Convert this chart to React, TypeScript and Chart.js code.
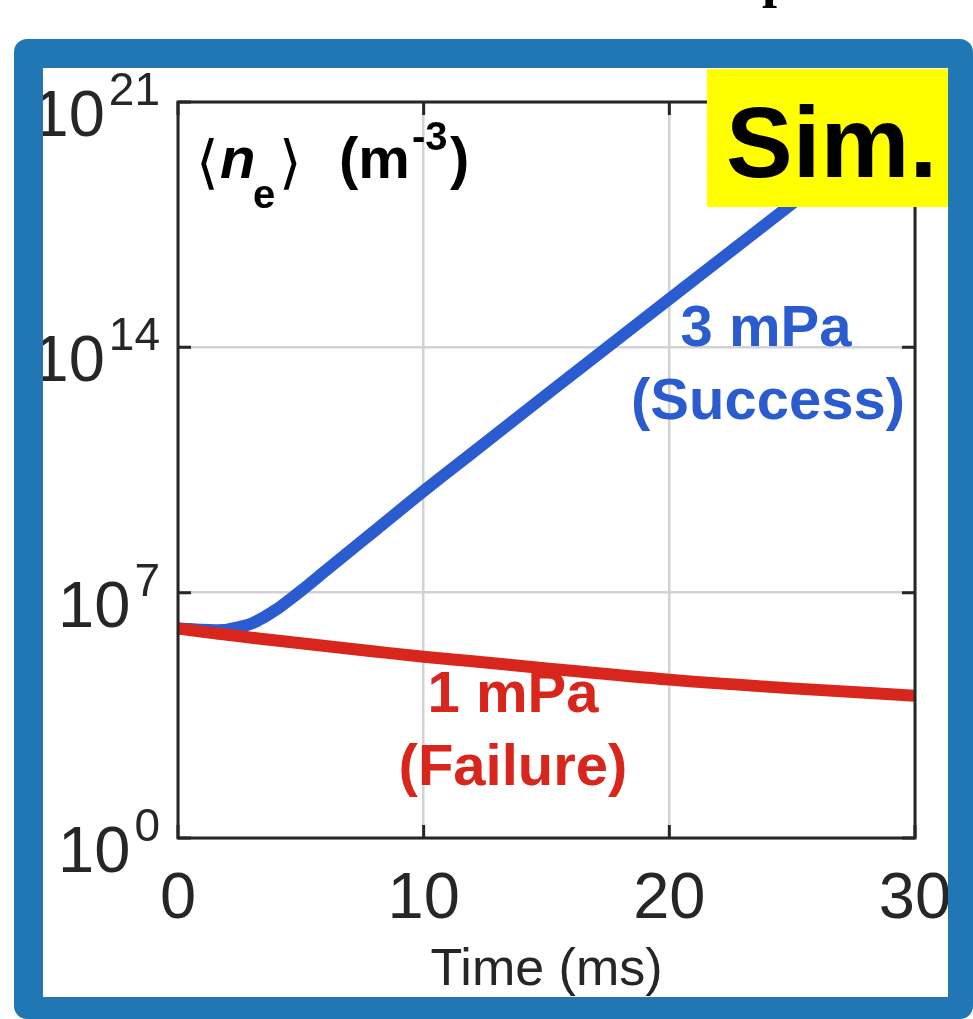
import React, { useEffect, useRef } from 'react';
import { Chart, registerables } from 'chart.js';

Chart.register(...registerables);

const W = 973;
const H = 1019;

// ---- data ----
const xTickValues = [0, 10, 20, 30];
const xTickLabels = ['0', '10', '20', '30'];
const yTickValues = [1, 1e7, 1e14, 1e21];
const yTickExponents = ['0', '7', '14', '21'];

const successTime = [0, 0.5, 1, 1.5, 2, 2.5, 3, 3.5, 4, 4.5, 5, 6, 7, 8, 10, 12, 15, 20, 25, 30];
const successDensity = [
  9.5e5, 9.2e5, 8.7e5, 8.5e5, 8.8e5, 1.05e6, 1.32e6, 2.0e6, 3.3e6, 6.0e6, 1.12e7, 4.17e7,
  1.55e8, 5.75e8, 7.94e9, 1.0e11, 4.47e12, 2.4e15, 1.26e18, 6.3e20,
];
const failureTime = [0, 1, 2, 3, 5, 8, 10, 12, 15, 20, 25, 30];
const failureDensity = [9.5e5, 7.6e5, 6.3e5, 5.2e5, 3.6e5, 2.1e5, 1.48e5, 1.1e5, 6.9e4, 3.3e4, 1.86e4, 1.15e4];

const successLabel = ['3 mPa', '(Success)'];
const failureLabel = ['1 mPa', '(Failure)'];
const xTitle = 'Time (ms)';
const badgeText = 'Sim.';
const cutTitleText = 'p';

// ---- styles ----
const AXIS = '#262626';
const GRID = '#d2d2d2';
const BLUE = '#2a5bcf';
const RED = '#d8261c';
const FRAME = '#2077b4';
const SANS = '"Liberation Sans", Arial, Helvetica, sans-serif';

const overlay = {
  id: 'overlay',
  beforeDraw(chart: any) {
    const ctx = chart.ctx;
    ctx.save();
    ctx.fillStyle = '#ffffff';
    ctx.fillRect(0, 0, chart.width, chart.height);
    ctx.restore();
  },
  afterDatasetsDraw(chart: any) {
    const { ctx, chartArea: a } = chart;
    const xs = chart.scales.x;
    const ys = chart.scales.y;
    ctx.save();
    ctx.strokeStyle = AXIS;
    ctx.lineWidth = 3;
    ctx.lineCap = 'butt';
    ctx.strokeRect(a.left, a.top, a.right - a.left, a.bottom - a.top);
    const tl = 13;
    ctx.beginPath();
    xTickValues.forEach((v) => {
      const px = xs.getPixelForValue(v);
      ctx.moveTo(px, a.bottom);
      ctx.lineTo(px, a.bottom - tl);
      ctx.moveTo(px, a.top);
      ctx.lineTo(px, a.top + tl);
    });
    yTickValues.forEach((v) => {
      const py = ys.getPixelForValue(v);
      ctx.moveTo(a.left, py);
      ctx.lineTo(a.left + tl, py);
      ctx.moveTo(a.right, py);
      ctx.lineTo(a.right - tl, py);
    });
    ctx.stroke();
    ctx.restore();
  },
  afterDraw(chart: any) {
    const { ctx, chartArea: a } = chart;
    const xs = chart.scales.x;
    const ys = chart.scales.y;
    ctx.save();

    // x tick labels
    ctx.fillStyle = AXIS;
    ctx.font = `65px ${SANS}`;
    ctx.textAlign = 'center';
    ctx.textBaseline = 'alphabetic';
    xTickValues.forEach((v, i) => {
      ctx.fillText(xTickLabels[i], xs.getPixelForValue(v), a.bottom + 80);
    });

    // y tick labels: 10^n
    yTickValues.forEach((v, i) => {
      const py = ys.getPixelForValue(v);
      const right = a.left - 18;
      ctx.textAlign = 'right';
      ctx.font = `46px ${SANS}`;
      const supW = ctx.measureText(yTickExponents[i]).width;
      ctx.fillText(yTickExponents[i], right, py + 3);
      ctx.font = `65px ${SANS}`;
      ctx.fillText('10', right - supW - 4, py + 34);
    });

    // x axis title
    ctx.textAlign = 'center';
    ctx.font = `52px ${SANS}`;
    ctx.fillText(xTitle, (a.left + a.right) / 2, a.bottom + 147);

    // y quantity label  <n_e> (m^-3)
    ctx.textAlign = 'left';
    ctx.fillStyle = '#000000';
    ctx.font = `58px "DejaVu Sans", sans-serif`;
    ctx.fillText('\u27E8', 196, 182);
    ctx.font = `italic bold 58px ${SANS}`;
    ctx.fillText('n', 220, 178);
    ctx.font = `bold 40px ${SANS}`;
    ctx.fillText('e', 253, 208);
    ctx.font = `58px "DejaVu Sans", sans-serif`;
    ctx.fillText('\u27E9', 279, 182);
    ctx.font = `bold 58px ${SANS}`;
    ctx.fillText('(m', 339, 178);
    ctx.font = `bold 40px ${SANS}`;
    ctx.fillText('-3', 412, 150);
    ctx.font = `bold 58px ${SANS}`;
    ctx.fillText(')', 450, 178);

    // series annotations
    ctx.textAlign = 'center';
    ctx.font = `bold 58px ${SANS}`;
    ctx.fillStyle = BLUE;
    ctx.fillText(successLabel[0], 766, 346);
    ctx.fillText(successLabel[1], 768, 419);
    ctx.fillStyle = RED;
    ctx.fillText(failureLabel[0], 513, 712);
    ctx.fillText(failureLabel[1], 513, 785);

    // Sim. badge
    ctx.fillStyle = '#ffff00';
    ctx.fillRect(707, 69, 948 - 707, 207 - 69);
    ctx.fillStyle = '#000000';
    ctx.textAlign = 'left';
    ctx.font = `bold 100px ${SANS}`;
    ctx.fillText(badgeText, 726, 177);

    // cut-off title glyph at the very top
    ctx.font = `bold 54px "Liberation Serif", "Times New Roman", serif`;
    ctx.fillText(cutTitleText, 762, -4);

    // blue rounded frame
    ctx.fillStyle = FRAME;
    ctx.beginPath();
    (ctx as any).roundRect(14, 39, W - 14, H - 39, 13);
    ctx.rect(43, 68, 948 - 43, 997 - 68);
    ctx.fill('evenodd');

    ctx.restore();
  },
};

export default function App() {
  const ref = useRef<HTMLCanvasElement | null>(null);

  useEffect(() => {
    if (!ref.current) return;
    const chart = new Chart(ref.current, {
      type: 'line',
      data: {
        datasets: [
          {
            label: '1 mPa (Failure)',
            data: failureTime.map((t, i) => ({ x: t, y: failureDensity[i] })),
            borderColor: RED,
            borderWidth: 12,
            pointRadius: 0,
            cubicInterpolationMode: 'monotone',
            fill: false,
            clip: 0,
          } as any,
          {
            label: '3 mPa (Success)',
            data: successTime.map((t, i) => ({ x: t, y: successDensity[i] })),
            borderColor: BLUE,
            borderWidth: 12,
            pointRadius: 0,
            cubicInterpolationMode: 'monotone',
            fill: false,
            clip: 0,
          } as any,
        ],
      },
      options: {
        responsive: false,
        maintainAspectRatio: false,
        devicePixelRatio: 1,
        animation: false,
        layout: { padding: { left: 178, right: W - 915, top: 102, bottom: H - 838 } },
        plugins: { legend: { display: false }, tooltip: { enabled: false }, title: { display: false } },
        elements: { line: { borderJoinStyle: 'round', borderCapStyle: 'butt' } },
        scales: {
          x: {
            type: 'linear',
            min: 0,
            max: 30,
            afterBuildTicks: (s: any) => {
              s.ticks = xTickValues.map((v) => ({ value: v }));
            },
            ticks: { display: false },
            grid: { color: GRID, lineWidth: 2.5, drawTicks: false },
            border: { display: false },
          },
          y: {
            type: 'logarithmic',
            min: 1,
            max: 1e21,
            afterBuildTicks: (s: any) => {
              s.ticks = yTickValues.map((v) => ({ value: v }));
            },
            ticks: { display: false },
            grid: { color: GRID, lineWidth: 2.5, drawTicks: false },
            border: { display: false },
          },
        },
      } as any,
      plugins: [overlay],
    });
    return () => chart.destroy();
  }, []);

  return (
    <div style={{ position: 'fixed', left: 0, top: 0, width: W, height: H }}>
      <canvas ref={ref} width={W} height={H} style={{ display: 'block', width: W, height: H }} />
    </div>
  );
}
